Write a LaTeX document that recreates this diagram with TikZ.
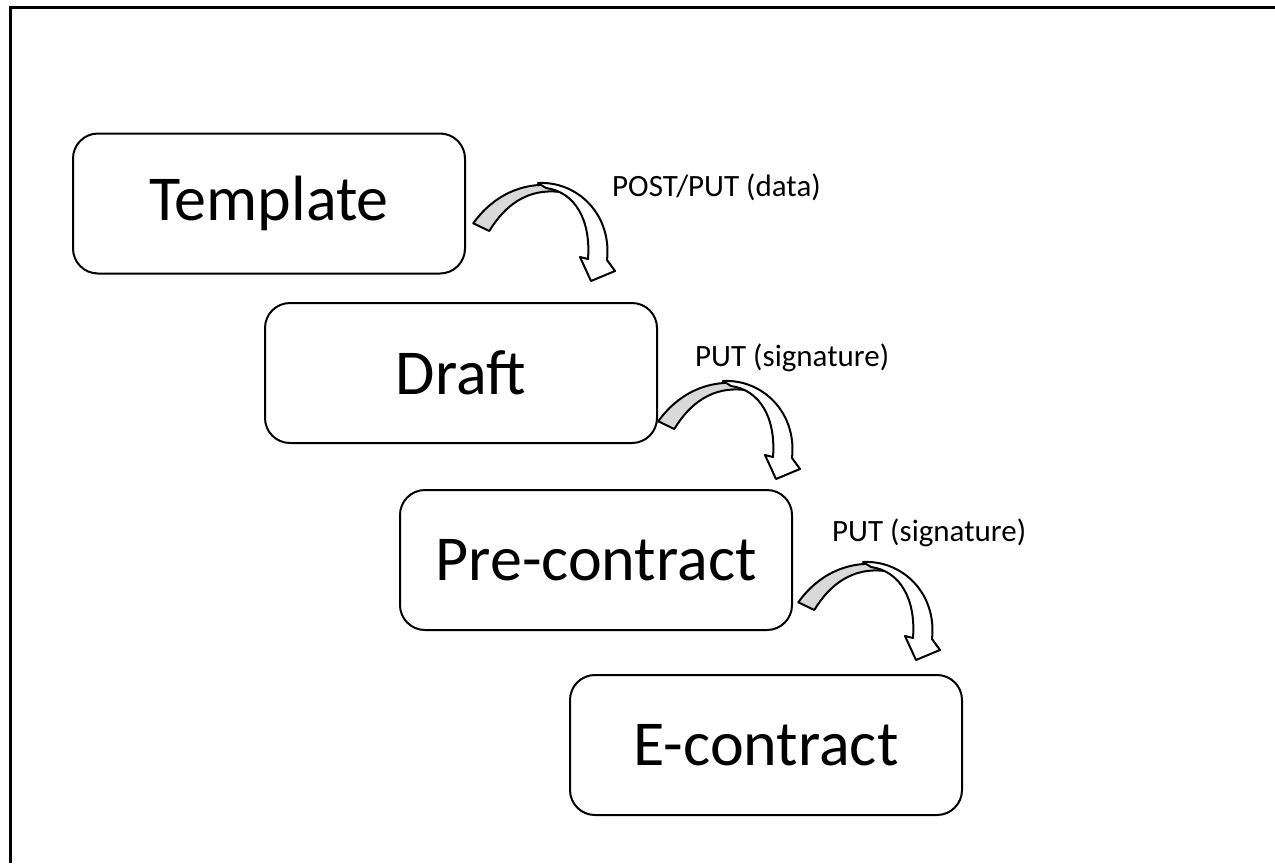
\documentclass[tikz,border=0pt]{standalone}
\usepackage{fontspec}
\setmainfont{Carlito}
\tikzset{
  stage/.style={draw,line width=2pt,rounded corners=25pt,minimum width=392pt,minimum height=140pt,font=\fontsize{64}{77}\selectfont},
  call/.style={anchor=base west,inner sep=0pt,font=\fontsize{31}{37}\selectfont},
  bandfront/.style={draw,line width=2pt,fill=black!15,line join=round},
  bandback/.style={draw,line width=2pt,fill=white,line join=round}
}
\newcommand{\bentarrow}[1]{%
  \begin{scope}[shift={#1}]
    \draw[bandfront] (13.3,73.3) .. controls (32,47) and (62,30) .. (100,36)
      -- (100,42) .. controls (68,38) and (45,55) .. (29.3,81) -- cycle;
    \draw[bandback] (78,33) .. controls (118,31) and (152,65) .. (147,110)
      -- (155,121) -- (131,131) -- (120,107) -- (128,109)
      .. controls (131,70) and (115,42) .. (86,38) -- cycle;
  \end{scope}}
\begin{document}
\begin{tikzpicture}[x=1pt,y=-1pt]
        \useasboundingbox (0,0) rectangle (1275,863);
        %% Frame
        \draw[line width=3pt] (10,863) -- (10,7) -- (1275,7);
        %% States
        \node[stage] (tmpl) at (269,203.5) {Template};
        \node[stage] (draft) at (461,373) {Draft};
        \node[stage] (pre) at (596,560) {Pre-contract};
        \node[stage] (econ) at (766,745) {E-contract};
        %% Calls
        \node[call] (lbla) at (612,196) {POST/PUT (data)};
        \node[call] (lblb) at (695,366) {PUT (signature)};
        \node[call] (lblc) at (832,541) {PUT (signature)};
        %% Arrows
        \bentarrow{(460,150)}
        \bentarrow{(645,348)}
        \bentarrow{(785,529)}
    \end{tikzpicture}
\end{document}
